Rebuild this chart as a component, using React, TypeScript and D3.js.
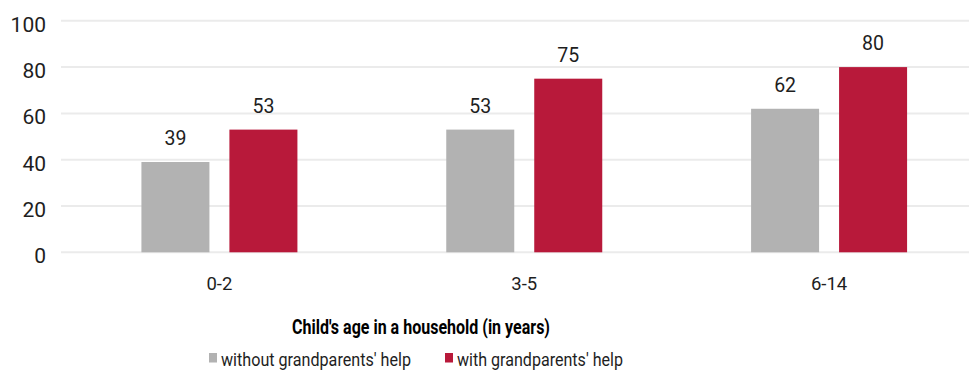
import React from "react";
import * as d3 from "d3";

const categories = ["0-2", "3-5", "6-14"];
const seriesNames = ["without grandparents' help", "with grandparents' help"];
const withoutHelp = [39, 53, 62];
const withHelp = [53, 75, 80];
const yTicks = [0, 20, 40, 60, 80, 100];
const axisTitle = "Child's age in a household (in years)";

const W = 969;
const H = 371;
const colors = ["#b2b2b2", "#b8193a"];
const textColor = "#1e1e1e";
const font = "Roboto, 'Noto Sans', sans-serif";

export default function App() {
  const x = d3.scaleBand<string>().domain(categories).range([67, 981.5]).padding(0);
  const y = d3.scaleLinear().domain([0, 100]).range([252.3, 20.8]);
  const inner = d3.scaleBand<number>().domain([0, 1]).range([-78, 78]).paddingInner(0.227).paddingOuter(0);
  const series = [withoutHelp, withHelp];

  return (
    <svg width={W} height={H} style={{ position: "absolute", left: 0, top: 0 }} fontFamily={font}>
      <rect width={W} height={H} fill="#fff" />
      {yTicks.map((t) => (
        <g key={t}>
          <line x1={61} x2={W} y1={y(t)} y2={y(t)} stroke="#ebebeb" strokeWidth={2} />
          <text x={46} y={y(t) + 3.5} dy="0.35em" textAnchor="end" fontSize={21} fill={textColor}>
            {t}
          </text>
        </g>
      ))}
      {categories.map((c, i) => {
        const cx = (x(c) as number) + x.bandwidth() / 2;
        return (
          <g key={c}>
            {series.map((s, j) => {
              const bx = cx + (inner(j) as number);
              return (
                <g key={j}>
                  <rect x={bx} y={y(s[i])} width={inner.bandwidth()} height={y(0) - y(s[i])} fill={colors[j]} />
                  <text x={bx + inner.bandwidth() / 2} y={y(s[i]) - 17} textAnchor="middle" fontSize={19.5} fill={textColor}>
                    {s[i]}
                  </text>
                </g>
              );
            })}
            <text x={cx} y={284} dy="0.35em" textAnchor="middle" fontSize={18.5} fill={textColor}>
              {c}
            </text>
          </g>
        );
      })}
      <text x={292} y={327} dy="0.35em" fontSize={20} fontWeight="bold" fill="#000" textLength={258} lengthAdjust="spacingAndGlyphs">
        {axisTitle}
      </text>
      {seriesNames.map((n, j) => {
        const lx = [209, 445][j];
        const tl = [190, 166][j];
        return (
          <g key={n}>
            <rect x={lx} y={353} width={8} height={9.5} fill={colors[j]} />
            <text x={lx + 12} y={359} dy="0.35em" fontSize={19} fill={textColor} textLength={tl} lengthAdjust="spacingAndGlyphs">
              {n}
            </text>
          </g>
        );
      })}
    </svg>
  );
}
